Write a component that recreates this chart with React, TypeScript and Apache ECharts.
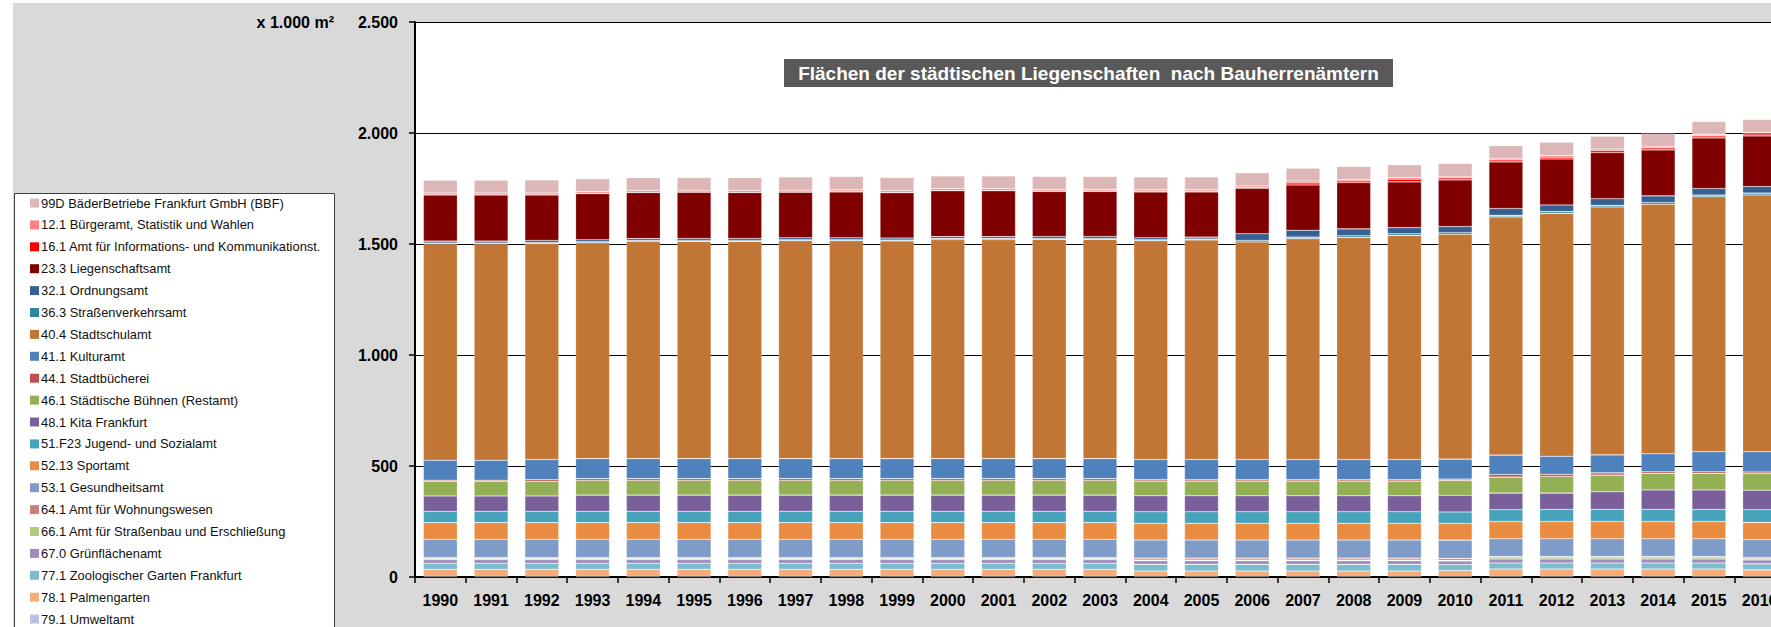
import React, { useEffect, useRef } from 'react';
import * as echarts from 'echarts';

const years = ['1990','1991','1992','1993','1994','1995','1996','1997','1998','1999','2000','2001','2002','2003','2004','2005','2006','2007','2008','2009','2010','2011','2012','2013','2014','2015','2016'];

const yTicks = [0, 500, 1000, 1500, 2000, 2500];

// stack from bottom to top
const s79_1 = [2,2,2,2,2,2,2,2,2,2,2,2,2,2,2,2,2,2,2,2,2,2,2,2,2,2,2];
const s78_1 = [33,33,33,33,33,33,33,33,33,33,33,33,33,33,25,25,25,25,25,25,27,34,34,34,34,34,30];
const s77_1 = [27,27,27,27,27,27,27,27,27,27,27,27,27,27,30,30,30,30,30,30,27,27,27,27,27,27,27];
const s67_0 = [17,17,17,17,17,17,17,17,17,17,17,17,17,17,16,16,16,16,16,16,16,18,18,18,18,18,18];
const s66_1 = [5,5,5,5,5,5,5,5,5,5,5,5,5,5,3,3,3,3,3,3,3,6,6,6,6,6,6];
const s64_1 = [4,4,4,4,4,4,4,4,4,4,4,4,4,4,9,9,9,9,9,9,9,5,5,5,5,5,5];
const s53_1 = [82,82,82,82,82,82,82,82,82,82,82,82,82,82,82,82,82,82,82,82,82,80,80,80,80,80,80];
const s52_13 = [75,75,75,75,75,75,75,75,75,75,75,75,75,75,75,75,75,75,75,75,75,78,78,78,78,78,78];
const s51_F23 = [51,51,51,51,51,51,51,51,51,51,51,51,51,51,52,52,52,52,52,52,52,53,55,55,55,55,57];
const s48_1 = [69,69,69,73,73,73,73,73,73,73,73,73,73,73,72,72,72,72,72,72,75,75,73,79,87,87,88];
const s46_1 = [66,66,66,66,66,66,66,66,66,66,66,66,66,66,66,66,66,66,66,66,66,72,75,75,75,75,75];
const s44_1 = [5,5,8,8,8,8,8,8,8,8,8,8,8,8,7,7,7,7,7,7,7,12,10,10,7,7,7];
const s41_1 = [90,90,90,90,90,90,90,90,90,90,90,90,90,90,90,90,90,90,90,90,90,87,81,81,81,91,91];
const s40_4 = [974,974,974,973,978,979,979,982,982,981,987,987,988,988,986,989,980,995,1001,1010,1013,1073,1094,1117,1124,1148,1157];
const s36_3 = [4,4,4,4,4,4,4,4,4,4,4,4,4,4,4,4,7,7,7,7,7,7,8,7,8,7,8];
const s32_1 = [9,9,9,9,9,9,9,9,9,9,9,9,9,9,9,9,30,31,31,28,28,31,30,30,30,30,30];
const s23_3 = [208,208,205,208,208,208,207,205,207,204,207,207,203,203,207,204,205,204,208,206,210,210,207,208,207,228,228];
const s16_1 = [1,1,1,1,1,1,1,1,1,1,1,1,1,1,1,1,2,9,8,12,9,9,8,9,9,9,9];
const s12_1 = [8,8,8,8,8,8,8,8,8,8,8,8,8,8,8,8,8,9,7,7,7,7,7,7,7,7,7];
const s99D = [57,57,58,58,58,58,58,60,60,60,58,58,58,58,58,58,60,58,58,58,58,57,60,58,58,58,58];

const seriesDefs = [
  { name: '79.1 Umweltamt', data: s79_1, color: '#B8C3DF' },
  { name: '78.1 Palmengarten', data: s78_1, color: '#F8AC7A' },
  { name: '77.1 Zoologischer Garten Frankfurt', data: s77_1, color: '#7ABBD0' },
  { name: '67.0 Grünflächenamt', data: s67_0, color: '#9E8DBA' },
  { name: '66.1 Amt für Straßenbau und Erschließung', data: s66_1, color: '#AFC97E' },
  { name: '64.1 Amt für Wohnungswesen', data: s64_1, color: '#CF7F7D' },
  { name: '53.1 Gesundheitsamt', data: s53_1, color: '#7F9BC8' },
  { name: '52.13 Sportamt', data: s52_13, color: '#E98C41' },
  { name: '51.F23 Jugend- und Sozialamt', data: s51_F23, color: '#47A3BB' },
  { name: '48.1 Kita Frankfurt', data: s48_1, color: '#7A5F9A' },
  { name: '46.1 Städtische Bühnen (Restamt)', data: s46_1, color: '#93B054' },
  { name: '44.1 Stadtbücherei', data: s44_1, color: '#C0504D' },
  { name: '41.1 Kulturamt', data: s41_1, color: '#4F81BD' },
  { name: '40.4 Stadtschulamt', data: s40_4, color: '#C27635' },
  { name: '36.3 Straßenverkehrsamt', data: s36_3, color: '#31859C' },
  { name: '32.1 Ordnungsamt', data: s32_1, color: '#376092' },
  { name: '23.3 Liegenschaftsamt', data: s23_3, color: '#800000' },
  { name: '16.1 Amt für Informations- und Kommunikationst.', data: s16_1, color: '#FF0000' },
  { name: '12.1 Bürgeramt, Statistik und Wahlen', data: s12_1, color: '#FF8080' },
  { name: '99D BäderBetriebe Frankfurt GmbH (BBF)', data: s99D, color: '#DDB7B7' },
];

const FONT = 'Liberation Sans, Arial, sans-serif';

function fmt(v: number): string {
  if (v >= 1000) {
    const t = Math.floor(v / 1000);
    const r = String(v % 1000).padStart(3, '0');
    return t + '.' + r;
  }
  return String(v);
}

export default function App() {
  const ref = useRef<HTMLDivElement>(null);
  useEffect(() => {
    const chart = echarts.init(ref.current!, null, { renderer: 'svg' });
    const option: any = {
      animation: false,
      backgroundColor: '#D9D9D9',
      textStyle: { fontFamily: FONT },
      grid: {
        left: 415, top: 22, width: 1370, height: 555,
        show: true, backgroundColor: '#FFFFFF', borderWidth: 0,
      },
      legend: {
        orient: 'vertical',
        left: 30, top: 196, height: 520, padding: 0,
        itemWidth: 9, itemHeight: 9, itemGap: 7.9,
        icon: 'rect',
        data: seriesDefs.map(s => s.name).reverse(),
        textStyle: { fontFamily: FONT, fontSize: 12.9, color: '#111', lineHeight: 14, padding: [0, 0, 0, -3] },
        itemStyle: { borderWidth: 0 },
        selectedMode: false,
      },
      xAxis: {
        type: 'category',
        data: years,
        boundaryGap: true,
        axisLine: { show: true, lineStyle: { color: '#000', width: 2 } },
        axisTick: { show: true, length: 6, lineStyle: { color: '#000', width: 1.5 } },
        axisLabel: { interval: 0, margin: 15, fontFamily: FONT, fontSize: 16, fontWeight: 'bold', color: '#000' },
        splitLine: { show: false },
      },
      yAxis: {
        type: 'value',
        min: yTicks[0], max: yTicks[yTicks.length - 1], interval: 500,
        axisLine: { show: true, lineStyle: { color: '#000', width: 2 } },
        axisTick: { show: true, length: 6, lineStyle: { color: '#000', width: 1.5 } },
        axisLabel: { margin: 17, fontFamily: FONT, fontSize: 16, fontWeight: 'bold', color: '#000', formatter: (v: number) => fmt(v) },
        splitLine: { show: true, lineStyle: { color: '#000', width: 1 } },
      },
      series: seriesDefs.map(s => ({
        name: s.name,
        type: 'bar',
        stack: 'total',
        barWidth: 34,
        data: s.data,
        itemStyle: { color: s.color, borderColor: 'rgba(255,255,255,0.35)', borderWidth: 0.6 },
        emphasis: { disabled: true },
      })),
      graphic: [
        { type: 'rect', shape: { x: 0, y: 0, width: 13, height: 627 }, style: { fill: '#FFFFFF' }, silent: true },
        { type: 'rect', shape: { x: 0, y: 0, width: 1800, height: 3 }, style: { fill: '#FFFFFF' }, silent: true },
        { type: 'rect', shape: { x: 14.5, y: 193.5, width: 320, height: 460 }, style: { fill: '#FFFFFF', stroke: '#404040', lineWidth: 1 }, silent: true },
        { type: 'rect', shape: { x: 784, y: 59, width: 609, height: 28 }, style: { fill: '#595959' }, silent: true },
        {
          type: 'text', x: 1088.5, y: 73.5, silent: true,
          style: { text: 'Flächen der städtischen Liegenschaften  nach Bauherrenämtern', fill: '#FFFFFF', font: 'bold 19px Liberation Sans', textAlign: 'center', textVerticalAlign: 'middle' },
        },
        {
          type: 'text', x: 334, y: 22, silent: true,
          style: { text: 'x 1.000 m²', fill: '#000', font: 'bold 16px Liberation Sans', textAlign: 'right', textVerticalAlign: 'middle' },
        },
      ],
    };
    chart.setOption(option);
    return () => chart.dispose();
  }, []);
  return (
    <div style={{ position: 'absolute', left: 0, top: 0, width: 1771, height: 627, overflow: 'hidden' }}>
      <div ref={ref} style={{ width: 1800, height: 627 }} />
    </div>
  );
}
